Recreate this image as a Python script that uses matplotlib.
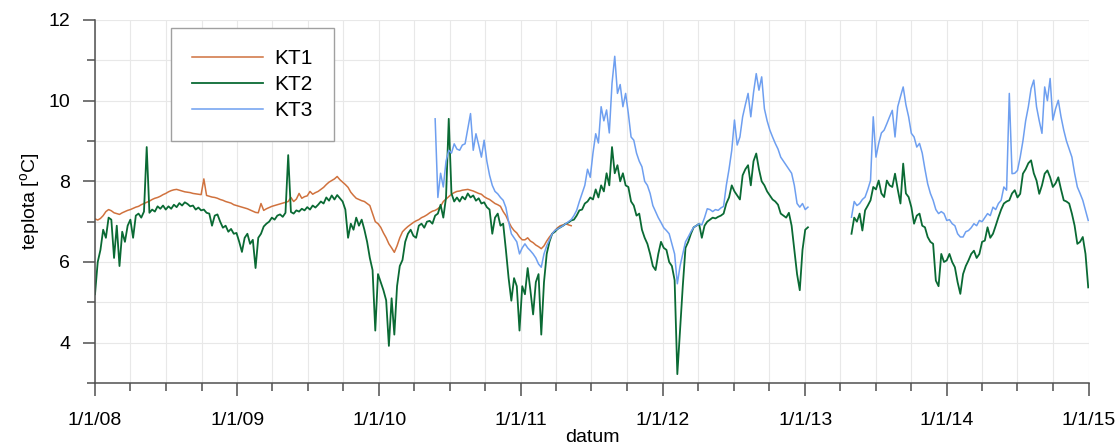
import numpy as np
import pandas as pd
import matplotlib
matplotlib.use("Agg")
import matplotlib.pyplot as plt
import matplotlib.dates as mdates
from matplotlib.ticker import MultipleLocator, FuncFormatter

# -----------------------------
# Data (weekly readings)
# -----------------------------
kt1_start = "2008-01-01"
kt1 = [7.07, 7.04, 7.08, 7.15, 7.25, 7.30, 7.27, 7.22, 7.20, 7.18, 7.22, 7.25, 7.28,
       7.30, 7.33, 7.36, 7.38, 7.42, 7.45, 7.48, 7.51, 7.55, 7.58, 7.60, 7.63, 7.67,
       7.70, 7.74, 7.77, 7.79, 7.80, 7.78, 7.76, 7.74, 7.73, 7.72, 7.70, 7.69, 7.68,
       7.67, 8.06, 7.65, 7.63, 7.61, 7.60, 7.58, 7.55, 7.53, 7.50, 7.48, 7.46, 7.42,
       7.40, 7.38, 7.36, 7.34, 7.32, 7.29, 7.26, 7.23, 7.22, 7.45, 7.28, 7.32, 7.35,
       7.38, 7.40, 7.42, 7.44, 7.46, 7.48, 7.50, 7.60, 7.50, 7.56, 7.70, 7.58, 7.62,
       7.64, 7.75, 7.68, 7.72, 7.75, 7.80, 7.85, 7.92, 7.98, 8.02, 8.06, 8.12, 8.04,
       7.98, 7.92, 7.85, 7.73, 7.65, 7.58, 7.55, 7.52, 7.50, 7.45, 7.40, 7.20, 7.00,
       6.95, 6.86, 6.72, 6.60, 6.45, 6.35, 6.24, 6.40, 6.60, 6.75, 6.82, 6.88, 6.93,
       6.98, 7.02, 7.05, 7.10, 7.13, 7.17, 7.22, 7.26, 7.28, 7.32, 7.38, 7.50, 7.56,
       7.62, 7.68, 7.72, 7.75, 7.76, 7.78, 7.79, 7.80, 7.78, 7.76, 7.73, 7.70, 7.68,
       7.62, 7.58, 7.55, 7.50, 7.45, 7.42, 7.38, 7.25, 7.15, 7.00, 6.87, 6.78, 6.72,
       6.62, 6.55, 6.55, 6.60, 6.52, 6.48, 6.42, 6.38, 6.33, 6.40, 6.52, 6.62, 6.70,
       6.78, 6.85, 6.90, 6.92, 6.95, 6.92, 6.90]

kt2_start = "2008-01-01"
kt2 = [5.20, 6.00, 6.30, 6.80, 6.60, 7.10, 7.05, 6.10, 6.90, 5.90, 6.75, 6.50, 6.90,
       7.05, 6.60, 7.15, 7.20, 7.10, 7.25, 8.85, 7.22, 7.30, 7.25, 7.38, 7.32, 7.40,
       7.30, 7.38, 7.32, 7.42, 7.36, 7.46, 7.40, 7.48, 7.44, 7.38, 7.40, 7.30, 7.35,
       7.28, 7.30, 7.22, 7.20, 6.90, 7.15, 7.18, 7.00, 6.85, 6.90, 6.75, 6.82, 6.70,
       6.72, 6.50, 6.25, 6.60, 6.70, 6.45, 6.55, 5.85, 6.60, 6.70, 6.88, 6.95, 7.00,
       7.10, 7.05, 7.15, 7.18, 7.12, 7.22, 8.65, 7.24, 7.20, 7.28, 7.25, 7.32, 7.28,
       7.36, 7.30, 7.40, 7.35, 7.42, 7.50, 7.45, 7.60, 7.52, 7.65, 7.55, 7.66, 7.58,
       7.50, 7.30, 6.60, 6.95, 6.80, 7.10, 6.90, 7.05, 6.80, 6.50, 6.10, 5.80, 4.30,
       5.70, 5.50, 5.30, 5.05, 3.92, 5.10, 4.20, 5.40, 5.90, 6.05, 6.50, 6.70, 6.80,
       6.65, 6.60, 6.90, 6.95, 6.85, 7.00, 7.02, 6.95, 7.15, 7.20, 7.42, 7.10, 7.60,
       9.55, 7.70, 7.50, 7.60, 7.50, 7.62, 7.55, 7.70, 7.60, 7.65, 7.52, 7.58, 7.45,
       7.48, 7.36, 7.30, 6.70, 7.10, 7.20, 6.90, 6.95, 6.30, 5.60, 5.04, 5.60, 5.40,
       4.30, 5.40, 5.20, 5.85, 5.30, 4.70, 5.50, 5.70, 4.20, 5.50, 6.20, 6.50, 6.70,
       6.75, 6.82, 6.86, 6.90, 6.95, 6.98, 7.03, 7.05, 7.15, 7.28, 7.30, 7.45, 7.50,
       7.60, 7.55, 7.80, 7.60, 7.90, 7.75, 8.20, 7.90, 8.85, 8.20, 8.40, 8.00, 8.20,
       7.90, 7.86, 7.50, 7.40, 7.15, 7.20, 6.80, 6.60, 6.45, 6.20, 5.90, 5.80, 6.20,
       6.50, 6.35, 6.30, 6.00, 5.90, 5.55, 3.22, 4.30, 5.40, 6.35, 6.50, 6.70, 6.86,
       6.90, 6.95, 6.60, 6.90, 7.00, 7.05, 7.10, 7.08, 7.12, 7.15, 7.20, 7.45, 7.60,
       7.90, 7.75, 7.65, 7.55, 8.15, 8.30, 8.40, 7.90, 8.50, 8.69, 8.30, 8.00, 7.90,
       7.75, 7.65, 7.55, 7.50, 7.42, 7.20, 7.15, 7.10, 7.22, 6.90, 6.30, 5.70, 5.30,
       6.30, 6.80, 6.86]

# after the gap in early 2013
kt2b_start = "2013-04-30"
kt2b = [6.70, 7.10, 7.00, 7.20, 6.78, 7.28, 7.40, 7.53, 7.86, 7.80, 8.02, 7.70, 7.61,
        8.02, 7.90, 7.86, 8.19, 7.80, 7.45, 8.44, 7.70, 7.61, 7.36, 6.95, 7.15, 7.20,
        6.90, 6.86, 6.62, 6.50, 6.45, 5.54, 5.40, 6.20, 6.00, 6.04, 6.20, 6.00, 5.87,
        5.50, 5.21, 5.70, 5.90, 6.04, 6.20, 6.28, 6.10, 6.20, 6.50, 6.53, 6.86, 6.60,
        6.70, 6.90, 7.11, 7.30, 7.45, 7.50, 7.53, 7.70, 7.78, 7.60, 7.69, 8.19, 8.30,
        8.45, 8.52, 8.20, 8.02, 7.69, 7.90, 8.19, 8.27, 8.10, 7.86, 7.95, 8.10, 7.80,
        7.53, 7.50, 7.45, 7.20, 6.90, 6.45, 6.50, 6.62, 6.20, 5.37]

kt3_start = "2010-05-25"
kt3 = [9.55, 7.60, 8.20, 7.86, 8.50, 8.77, 8.70, 8.93, 8.80, 8.77, 8.90, 8.93, 9.30,
       9.68, 8.77, 9.18, 8.90, 8.60, 9.02, 8.50, 8.15, 7.90, 7.75, 7.69, 7.60, 7.53,
       7.35, 7.00, 6.70, 6.60, 6.50, 6.20, 6.35, 6.45, 6.35, 6.28, 6.20, 6.10, 5.95,
       5.87, 6.20, 6.40, 6.55, 6.70, 6.78, 6.82, 6.86, 6.90, 6.95, 7.00, 7.05, 7.15,
       7.28, 7.50, 7.70, 7.90, 8.30, 8.10, 8.70, 9.18, 8.95, 9.85, 9.50, 9.77, 9.20,
       10.43, 11.10, 10.18, 10.40, 9.85, 10.18, 9.68, 9.10, 9.02, 8.70, 8.50, 8.36,
       8.00, 7.90, 7.70, 7.40, 7.25, 7.10, 6.98, 6.85, 6.78, 6.70, 6.45, 6.20, 5.46,
       5.90, 6.20, 6.50, 6.62, 6.75, 6.86, 6.90, 6.95, 6.92, 7.10, 7.32, 7.30, 7.25,
       7.30, 7.28, 7.34, 7.38, 7.90, 8.30, 8.77, 9.52, 8.90, 9.10, 9.60, 9.90, 10.18,
       9.60, 10.20, 10.67, 10.26, 10.59, 9.80, 9.50, 9.27, 9.10, 8.94, 8.80, 8.60,
       8.50, 8.40, 8.30, 8.20, 7.90, 7.45, 7.36, 7.45, 7.30, 7.36]

kt3b_start = "2013-04-30"
kt3b = [7.11, 7.50, 7.40, 7.45, 7.55, 7.61, 7.80, 8.02, 9.60, 8.60, 8.94, 9.20, 9.27,
        9.43, 9.60, 9.76, 9.10, 9.85, 10.10, 10.34, 9.90, 9.60, 9.19, 9.10, 8.85, 8.94,
        8.70, 8.30, 7.94, 7.70, 7.53, 7.30, 7.20, 7.25, 7.20, 7.03, 7.05, 6.95, 6.90,
        6.70, 6.62, 6.62, 6.75, 6.78, 6.85, 6.95, 6.90, 7.03, 7.00, 7.10, 7.20, 7.15,
        7.36, 7.30, 7.45, 7.53, 7.86, 7.78, 10.18, 8.19, 8.20, 8.27, 8.60, 9.00, 9.50,
        9.85, 10.30, 10.51, 9.85, 9.50, 9.19, 10.34, 10.00, 10.55, 9.52, 9.80, 10.01,
        9.60, 9.27, 9.00, 8.80, 8.60, 8.20, 7.86, 7.70, 7.53, 7.28, 7.03]

labels = ["KT1", "KT2", "KT3"]
colors = ["#d0723e", "#0a6a34", "#6e9ff0"]

# -----------------------------
# Figure
# -----------------------------
plt.rcParams["font.family"] = ["Liberation Sans", "DejaVu Sans"]
plt.rcParams["mathtext.fontset"] = "custom"
plt.rcParams["mathtext.rm"] = "Liberation Sans"

fig = plt.figure(figsize=(11.2, 4.47), dpi=100)
ax = fig.add_axes([95 / 1120, 1 - 383 / 447, 994 / 1120, 363 / 447])


def weekly(start, vals):
    return pd.date_range(start, periods=len(vals), freq="7D")


ax.plot(weekly(kt1_start, kt1), kt1, color=colors[0], lw=1.1, label=labels[0])
ax.plot(weekly(kt2_start, kt2), kt2, color=colors[1], lw=1.3, label=labels[1])
ax.plot(weekly(kt2b_start, kt2b), kt2b, color=colors[1], lw=1.3)
ax.plot(weekly(kt3_start, kt3), kt3, color=colors[2], lw=1.1, label=labels[2])
ax.plot(weekly(kt3b_start, kt3b), kt3b, color=colors[2], lw=1.1)

ax.set_xlim(pd.Timestamp("2008-01-01"), pd.Timestamp("2015-01-01"))
ax.set_ylim(3, 12)

# ticks
ax.xaxis.set_major_locator(mdates.YearLocator())
ax.xaxis.set_minor_locator(mdates.MonthLocator(bymonth=[4, 7, 10]))
ax.xaxis.set_major_formatter(FuncFormatter(
    lambda v, p: "{0.month}/{0.day}/{1}".format(mdates.num2date(v), mdates.num2date(v).strftime("%y"))))
ax.yaxis.set_major_locator(MultipleLocator(2))
ax.yaxis.set_minor_locator(MultipleLocator(1))

ax.tick_params(which="major", length=9, width=1.1, color="#505050", labelsize=14)
ax.tick_params(axis="x", which="major", pad=12)
ax.tick_params(axis="y", which="major", pad=9)
ax.tick_params(which="minor", length=5.5, width=1.1, color="#505050")

ax.grid(which="both", color="#e8e8e8", lw=0.8)
ax.set_axisbelow(True)

for s in ["top", "right"]:
    ax.spines[s].set_visible(False)
for s in ["left", "bottom"]:
    ax.spines[s].set_color("#505050")
    ax.spines[s].set_linewidth(1.1)

ax.set_ylabel("teplota [$^{\\rm o}$C]", fontsize=14)
ax.yaxis.set_label_coords(-0.052, 0.5)
ax.set_xlabel("datum", fontsize=14)
ax.xaxis.set_label_coords(0.5, -0.128)

leg = ax.legend(loc="upper left", bbox_to_anchor=(171 / 1120, 1 - 28 / 447),
                bbox_transform=fig.transFigure, borderaxespad=0, fontsize=15,
                handlelength=3.4, handletextpad=0.58, labelspacing=0.35,
                borderpad=1.0, fancybox=False, framealpha=1)
leg.get_frame().set_edgecolor("#a0a0a0")
leg.get_frame().set_linewidth(1.0)

fig.savefig("out.png", dpi=100)
